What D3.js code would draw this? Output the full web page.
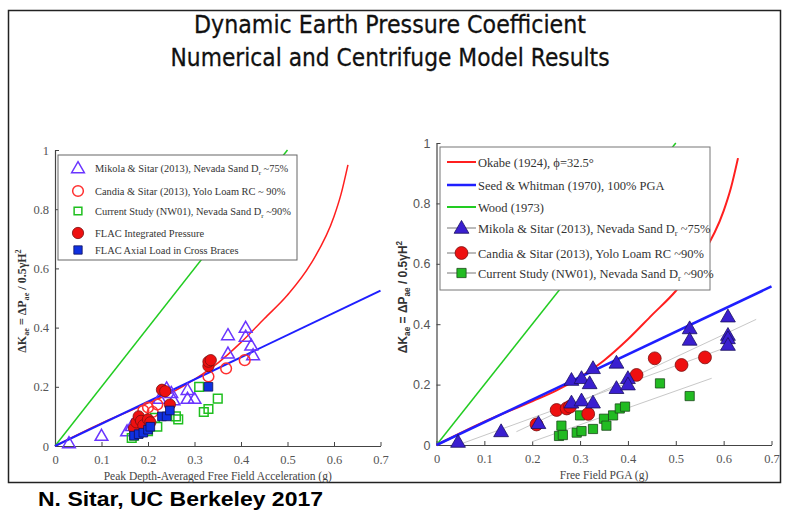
<!DOCTYPE html>
<html>
<head>
<meta charset="utf-8">
<script src="https://cdn.jsdelivr.net/npm/d3@7"></script>
<style>
body { margin: 0; background: #fff; }
svg { display: block; }
</style>
</head>
<body>
<svg id="chart"></svg>
<script>
const WIDTH = 785, HEIGHT = 511;

// axis ticks
const xTicks = [0, 0.1, 0.2, 0.3, 0.4, 0.5, 0.6, 0.7];
const yTicks = [0, 0.2, 0.4, 0.6, 0.8, 1];

// reference curves (kh, dK)
const okabe = [[0, 0], [0.1, 0.077], [0.2, 0.145], [0.25, 0.18], [0.3, 0.225], [0.35, 0.28],
    [0.4, 0.35], [0.45, 0.43], [0.5, 0.51], [0.55, 0.615], [0.6, 0.775], [0.615, 0.85], [0.63, 0.95]];
const seedWhitman = [[0, 0], [0.7, 0.525]];
const wood = [[0, 0], [0.5, 1]];

// left panel data
const mikolaL = [[0.03, 0.01], [0.10, 0.035], [0.155, 0.05], [0.165, 0.068], [0.225, 0.16], [0.24, 0.195],
    [0.25, 0.18], [0.255, 0.155], [0.285, 0.19], [0.285, 0.16], [0.30, 0.16], [0.372, 0.375],
    [0.372, 0.313], [0.41, 0.40], [0.41, 0.37], [0.422, 0.34], [0.426, 0.307]];
const candiaL = [[0.18, 0.09], [0.19, 0.12], [0.2, 0.13], [0.21, 0.115], [0.22, 0.14],
    [0.33, 0.235], [0.368, 0.262], [0.408, 0.29]];
const nw01L = [[0.165, 0.027], [0.17, 0.035], [0.18, 0.045], [0.2, 0.05], [0.22, 0.065], [0.215, 0.095],
    [0.26, 0.1], [0.265, 0.09], [0.31, 0.2], [0.32, 0.115], [0.33, 0.125], [0.35, 0.16]];
const flacPressure = [[0.17, 0.06], [0.175, 0.08], [0.18, 0.1], [0.185, 0.085], [0.19, 0.07], [0.2, 0.09],
    [0.205, 0.08], [0.23, 0.19], [0.237, 0.185], [0.247, 0.14], [0.33, 0.27], [0.33, 0.285], [0.335, 0.29]];
const flacBraces = [[0.17, 0.035], [0.18, 0.04], [0.19, 0.045], [0.2, 0.055], [0.205, 0.065],
    [0.23, 0.1], [0.24, 0.1], [0.247, 0.12], [0.33, 0.2]];

// right panel data
const mikolaR = [[0.045, 0.01], [0.135, 0.045], [0.213, 0.072], [0.282, 0.215], [0.303, 0.221], [0.32, 0.204],
    [0.327, 0.254], [0.376, 0.272], [0.376, 0.188], [0.40, 0.221], [0.40, 0.2], [0.282, 0.14],
    [0.303, 0.147], [0.327, 0.14], [0.529, 0.386], [0.529, 0.348], [0.609, 0.425], [0.609, 0.364],
    [0.609, 0.353], [0.609, 0.331]];
const candiaR = [[0.209, 0.068], [0.251, 0.116], [0.272, 0.121], [0.279, 0.127], [0.317, 0.103],
    [0.418, 0.232], [0.456, 0.287], [0.512, 0.265], [0.561, 0.29]];
const nw01R = [[0.256, 0.03], [0.261, 0.064], [0.264, 0.033], [0.293, 0.041], [0.303, 0.046], [0.30, 0.098],
    [0.327, 0.053], [0.35, 0.087], [0.355, 0.064], [0.369, 0.098], [0.383, 0.121], [0.394, 0.127],
    [0.467, 0.204], [0.529, 0.162]];
const fitMikola = [[0.167, 0.044], [0.668, 0.416]];
const fitCandia = [[0.055, 0.006], [0.6, 0.32]];
const fitNw01 = [[0.2, 0.011], [0.575, 0.221]];

const RED = "#ff1f1f", BLUE = "#1f1fff", GREEN = "#22cc22";
const SERIF = "'Liberation Serif', 'DejaVu Serif', serif";
const SANS = "'Liberation Sans', Arial, sans-serif";

const svg = d3.select("#chart")
    .attr("width", WIDTH)
    .attr("height", HEIGHT);

// frame
svg.append("rect")
    .attr("x", 8.5).attr("y", 10.5)
    .attr("width", 772).attr("height", 472)
    .attr("fill", "none").attr("stroke", "#222").attr("stroke-width", 1.5);

// title
const titles = [["Dynamic Earth Pressure Coefficient", 33, 392], ["Numerical and Centrifuge Model Results", 66, 439]];
titles.forEach(t => {
    svg.append("text")
        .attr("x", 390).attr("y", t[1])
        .attr("text-anchor", "middle")
        .attr("textLength", t[2]).attr("lengthAdjust", "spacingAndGlyphs")
        .style("font-family", "'DejaVu Sans', sans-serif")
        .style("font-size", "25px")
        .attr("fill", "#111")
        .attr("stroke", "#111").attr("stroke-width", 0.3)
        .text(t[0]);
});

svg.append("text")
    .attr("x", 38).attr("y", 506)
    .attr("textLength", 285).attr("lengthAdjust", "spacingAndGlyphs")
    .style("font-family", SANS).style("font-size", "21px").style("font-weight", "bold")
    .attr("fill", "#000")
    .text("N. Sitar, UC Berkeley 2017");

const xL = d3.scaleLinear().domain([0, 0.7]).range([55, 380.5]);
const yL = d3.scaleLinear().domain([0, 1]).range([446, 150]);
const xR = d3.scaleLinear().domain([0, 0.7]).range([436.5, 771.5]);
const yR = d3.scaleLinear().domain([0, 1]).range([445, 143]);

// text with sub/superscripts: parts are strings, {sub} or {sup}
function richText(t, parts, size) {
    let shift = 0;
    parts.forEach(p => {
        const s = t.append("tspan");
        let target = 0, txt = p;
        if (typeof p !== "string") {
            target = p.sub !== undefined ? 3 : -5;
            txt = p.sub !== undefined ? p.sub : p.sup;
            s.style("font-size", (size * 0.68) + "px");
        }
        if (target !== shift) s.attr("dy", target - shift);
        shift = target;
        s.text(txt);
    });
}

function drawAxes(x, y, yFont, xLabel, yLabelX, yLabelFont) {
    const g = svg.append("g");
    const xAxis = d3.axisBottom(x).tickValues(xTicks).tickSizeInner(-4).tickSizeOuter(0)
        .tickPadding(9).tickFormat(d => d === 0 ? "0" : d3.format(".1f")(d));
    g.append("g")
        .attr("transform", `translate(0,${y(0)})`)
        .call(xAxis)
        .call(a => a.select(".domain").attr("stroke", "#444").attr("stroke-width", 1.2))
        .call(a => a.selectAll(".tick line").attr("stroke", "#444"))
        .call(a => a.selectAll("text").style("font-family", SERIF).style("font-size", "12.5px").attr("fill", "#555"));
    const yAxis = d3.axisLeft(y).tickValues(yTicks).tickSizeInner(-4).tickSizeOuter(0)
        .tickPadding(6).tickFormat(d => d === 0 || d === 1 ? String(d) : d3.format(".1f")(d));
    g.append("g")
        .attr("transform", `translate(${x(0)},0)`)
        .call(yAxis)
        .call(a => a.select(".domain").attr("stroke", "#444").attr("stroke-width", 1.2))
        .call(a => a.selectAll(".tick line").attr("stroke", "#444"))
        .call(a => a.selectAll("text").style("font-family", yFont).style("font-size", "12.5px").attr("fill", "#555"));

    g.append("text")
        .attr("x", (x.range()[0] + x.range()[1]) / 2).attr("y", y(0) + 34)
        .attr("text-anchor", "middle")
        .style("font-family", SERIF).style("font-size", "11.5px")
        .attr("fill", "#444")
        .text(xLabel);

    const yl = g.append("text")
        .attr("transform", `translate(${yLabelX},${y(0.5) + 3}) rotate(-90)`)
        .attr("text-anchor", "middle")
        .style("font-family", yLabelFont).style("font-size", "12px").style("font-weight", "bold")
        .attr("fill", "#333");
    richText(yl, ["ΔK", { sub: "ae" }, " = ΔP", { sub: "ae" }, " / 0.5γH", { sup: "2" }], 12);
}

drawAxes(xL, yL, SERIF, "Peak Depth-Averaged Free Field Acceleration (g)", 26, SERIF);
drawAxes(xR, yR, SANS, "Free Field PGA (g)", 407, SANS);

function curve(x, y, data, color, width) {
    svg.append("path")
        .datum(data)
        .attr("fill", "none")
        .attr("stroke", color)
        .attr("stroke-width", width)
        .attr("d", d3.line().x(d => x(d[0])).y(d => y(d[1])).curve(d3.curveMonotoneX));
}

function markers(x, y, data, type, size, fill, stroke, sw) {
    svg.append("g")
        .selectAll("path")
        .data(data)
        .enter()
        .append("path")
        .attr("transform", d => `translate(${x(d[0])},${y(d[1]) + (type === d3.symbolTriangle ? 1 : 0)})`)
        .attr("d", d3.symbol().type(type).size(size)())
        .attr("fill", fill)
        .attr("stroke", stroke)
        .attr("stroke-width", sw);
}

// left panel
curve(xL, yL, wood, GREEN, 1.5);
curve(xL, yL, okabe, RED, 1.5);
curve(xL, yL, seedWhitman, BLUE, 2);
markers(xL, yL, mikolaL, d3.symbolTriangle, 70, "none", "#6a35ff", 1.5);
markers(xL, yL, candiaL, d3.symbolCircle, 90, "none", "#ff3030", 1.5);
markers(xL, yL, nw01L, d3.symbolSquare, 75, "none", "#1fbf1f", 1.5);
markers(xL, yL, flacPressure, d3.symbolCircle, 100, "#ee1010", "#7a1010", 0.8);
markers(xL, yL, flacBraces, d3.symbolSquare, 75, "#1030e0", "#10105a", 0.8);

// right panel
curve(xR, yR, fitMikola, "#c8c8c8", 1);
curve(xR, yR, fitCandia, "#c8c8c8", 1);
curve(xR, yR, fitNw01, "#c8c8c8", 1);
curve(xR, yR, wood, GREEN, 1.5);
curve(xR, yR, okabe, RED, 2);
curve(xR, yR, seedWhitman, BLUE, 2.5);
markers(xR, yR, nw01R, d3.symbolSquare, 85, "#22bb22", "#1a4a1a", 0.8);
markers(xR, yR, candiaR, d3.symbolCircle, 130, "#ee1010", "#7a1010", 0.8);
markers(xR, yR, mikolaR, d3.symbolTriangle, 95, "#3a1fd0", "#1a1060", 0.8);

// legends
function legendText(g, x, y, parts, size) {
    const t = g.append("text")
        .attr("x", x).attr("y", y)
        .style("font-family", SERIF).style("font-size", size + "px")
        .attr("fill", "#333");
    richText(t, parts, size);
}

const legL = svg.append("g");
legL.append("rect")
    .attr("x", 58).attr("y", 155).attr("width", 239).attr("height", 105)
    .attr("fill", "#fff").attr("stroke", "#666").attr("stroke-width", 1);
const legLItems = [
    [d3.symbolTriangle, 70, "none", "#6a35ff", 1.5, 168, ["Mikola & Sitar (2013), Nevada Sand D", { sub: "r" }, " ~75%"]],
    [d3.symbolCircle, 90, "none", "#ff3030", 1.5, 191, ["Candia & Sitar (2013), Yolo Loam RC ~ 90%"]],
    [d3.symbolSquare, 60, "none", "#1fbf1f", 1.5, 211, ["Current Study (NW01), Nevada Sand D", { sub: "r" }, " ~90%"]],
    [d3.symbolCircle, 100, "#ee1010", "#7a1010", 0.8, 233, ["FLAC Integrated Pressure"]],
    [d3.symbolSquare, 70, "#1030e0", "#10105a", 0.8, 250, ["FLAC Axial Load in Cross Braces"]]
];
legLItems.forEach(it => {
    legL.append("path")
        .attr("transform", `translate(78,${it[5] + (it[0] === d3.symbolTriangle ? 1 : 0)})`)
        .attr("d", d3.symbol().type(it[0]).size(it[1])())
        .attr("fill", it[2]).attr("stroke", it[3]).attr("stroke-width", it[4]);
    legendText(legL, 95, it[5] + 4, it[6], 10.4);
});

const legR = svg.append("g");
legR.append("rect")
    .attr("x", 440).attr("y", 147).attr("width", 270).attr("height", 143)
    .attr("fill", "#fff").attr("stroke", "#777").attr("stroke-width", 1);
const legRLines = [
    [RED, 2, 162, ["Okabe (1924), ϕ=32.5°"]],
    [BLUE, 2.5, 185, ["Seed & Whitman (1970), 100% PGA"]],
    [GREEN, 2, 207, ["Wood (1973)"]]
];
legRLines.forEach(it => {
    legR.append("line")
        .attr("x1", 447).attr("x2", 476).attr("y1", it[2]).attr("y2", it[2])
        .attr("stroke", it[0]).attr("stroke-width", it[1]);
    legendText(legR, 478, it[2] + 5, it[3], 12.5);
});
const legRMarks = [
    [d3.symbolTriangle, 95, "#3a1fd0", "#1a1060", 228, ["Mikola & Sitar (2013), Nevada Sand D", { sub: "r" }, " ~75%"]],
    [d3.symbolCircle, 130, "#ee1010", "#7a1010", 253, ["Candia & Sitar (2013), Yolo Loam RC ~90%"]],
    [d3.symbolSquare, 85, "#22bb22", "#1a4a1a", 273, ["Current Study (NW01), Nevada Sand D", { sub: "r" }, " ~90%"]]
];
legRMarks.forEach(it => {
    legR.append("line")
        .attr("x1", 447).attr("x2", 476).attr("y1", it[4]).attr("y2", it[4])
        .attr("stroke", "#777").attr("stroke-width", 1);
    legR.append("path")
        .attr("transform", `translate(461.5,${it[4] + (it[0] === d3.symbolTriangle ? 1 : 0)})`)
        .attr("d", d3.symbol().type(it[0]).size(it[1])())
        .attr("fill", it[2]).attr("stroke", it[3]).attr("stroke-width", 0.8);
    legendText(legR, 478, it[4] + 5, it[5], 12.5);
});
</script>
</body>
</html>
